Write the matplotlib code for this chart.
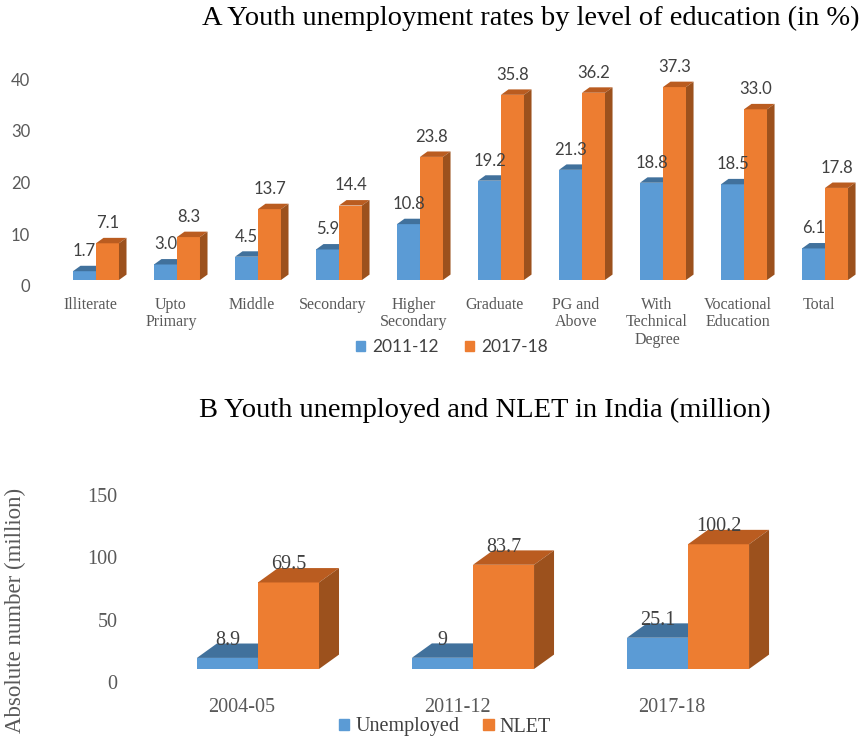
import matplotlib
matplotlib.use("Agg")
import matplotlib.pyplot as plt
from matplotlib.patches import Polygon, Patch
from matplotlib.transforms import ScaledTranslation

# panel A: youth unemployment rate by education (%)
edu_levels = ["Illiterate", "Upto\nPrimary", "Middle", "Secondary", "Higher\nSecondary",
              "Graduate", "PG and\nAbove", "With\nTechnical\nDegree", "Vocational\nEducation", "Total"]
rate_2011 = [1.7, 3.0, 4.5, 5.9, 10.8, 19.2, 21.3, 18.8, 18.5, 6.1]
rate_2017 = [7.1, 8.3, 13.7, 14.4, 23.8, 35.8, 36.2, 37.3, 33.0, 17.8]
series_a = ["2011-12", "2017-18"]

# panel B: youth unemployed and NLET (million)
years = ["2004-05", "2011-12", "2017-18"]
unemployed = [8.9, 9, 25.1]
nlet = [69.5, 83.7, 100.2]
series_b = ["Unemployed", "NLET"]

BLUE, BLUE_TOP = "#5B9BD5", "#41719C"
ORANGE, ORANGE_TOP, ORANGE_SIDE = "#ED7D31", "#BA5C20", "#9C511D"
SANS = ["Lato", "DejaVu Sans"]
SERIF = ["Liberation Serif", "DejaVu Serif"]

W, H = 863, 739
fig = plt.figure(figsize=(W / 100, H / 100), dpi=100)


def axes_px(left, top, right, bottom):
    return fig.add_axes([left / W, 1 - bottom / H, (right - left) / W, (bottom - top) / H])


def depth(ax, dx):
    # depth offset: dx in index units, dy in data units (about 0.72 of dx on screen)
    bb = ax.get_position()
    x0, x1 = ax.get_xlim()
    y0, y1 = ax.get_ylim()
    px_x = bb.width * W / (x1 - x0)
    px_y = bb.height * H / (y1 - y0)
    return dx, 0.72 * dx * px_x / px_y


def bars3d(ax, xs, vals, width, face, top, side, dx, dy, z):
    ax.bar(xs, vals, width=width, align="edge", color=face, zorder=z, linewidth=0)
    for x, v in zip(xs, vals):
        ax.add_patch(Polygon([(x, v), (x + dx, v + dy), (x + width + dx, v + dy), (x + width, v)],
                             closed=True, facecolor=top, edgecolor="none", zorder=z))
        ax.add_patch(Polygon([(x + width, 0), (x + width + dx, dy), (x + width + dx, v + dy), (x + width, v)],
                             closed=True, facecolor=side, edgecolor="none", zorder=z))


def clean(ax, shift_px):
    for s in ax.spines.values():
        s.set_visible(False)
    ax.tick_params(length=0)
    off = ScaledTranslation(0, -shift_px / 100, fig.dpi_scale_trans)
    for lab in ax.get_yticklabels():
        lab.set_transform(lab.get_transform() + off)


bw = 0.284
dx = 0.093

# ---- A ----
axA = axes_px(40, 70, 860, 280)
axA.set_xlim(-0.617, 9.506)
axA.set_ylim(0, 40.6)
idx = list(range(len(edu_levels)))
ddx, ddy = depth(axA, dx)
blue_x = [i - 0.21 for i in idx]
orange_x = [i - 0.21 + bw for i in idx]
bars3d(axA, blue_x, rate_2011, bw, BLUE, BLUE_TOP, BLUE_TOP, ddx, ddy, 2)
bars3d(axA, orange_x, rate_2017, bw, ORANGE, ORANGE_TOP, ORANGE_SIDE, ddx, ddy, 3)
for xs, vals in ((blue_x, rate_2011), (orange_x, rate_2017)):
    for x, v in zip(xs, vals):
        axA.annotate(f"{v:.1f}", (x + bw / 2, v + ddy), xytext=(0, 7), textcoords="offset points",
                     ha="center", va="baseline", fontsize=12, family=SANS, color="#404040", zorder=5)
axA.set_yticks([0, 10, 20, 30, 40])
axA.set_xticks(idx)
axA.set_xticklabels(edu_levels, family=SERIF, fontsize=11.5, color="#595959", va="top", linespacing=1.15)
axA.tick_params(axis="x", pad=12)
axA.tick_params(axis="y", pad=7, labelsize=12, labelcolor="#595959")
for lab in axA.get_yticklabels():
    lab.set_family(SANS)
clean(axA, 6)
fig.text(531 / W, 1 - 18 / H, "A Youth unemployment rates by level of education (in %)",
         ha="center", va="center", fontsize=20.5, family=SERIF, color="black")
fig.legend([Patch(color=BLUE), Patch(color=ORANGE)], series_a, loc="center",
           bbox_to_anchor=(452 / W, 1 - 347 / H), ncol=2, frameon=False,
           prop={"family": SANS, "size": 12.5}, handlelength=0.55, handleheight=0.55,
           handletextpad=0.4, columnspacing=1.5, labelcolor="#404040")

# ---- B ----
axB = axes_px(127, 480, 860, 669)
axB.set_xlim(-0.535, 2.874)
axB.set_ylim(0, 151.8)
idx_b = list(range(len(years)))
ddx, ddy = depth(axB, dx)
blue_x = [i - 0.21 for i in idx_b]
orange_x = [i - 0.21 + bw for i in idx_b]
bars3d(axB, blue_x, unemployed, bw, BLUE, BLUE_TOP, BLUE_TOP, ddx, ddy, 2)
bars3d(axB, orange_x, nlet, bw, ORANGE, ORANGE_TOP, ORANGE_SIDE, ddx, ddy, 3)
for xs, vals in ((blue_x, unemployed), (orange_x, nlet)):
    for x, v in zip(xs, vals):
        axB.annotate(f"{v:g}", (x + bw / 2, v + ddy), xytext=(0, -1), textcoords="offset points",
                     ha="center", va="baseline", fontsize=14.5, family=SERIF, color="#404040", zorder=5)
axB.set_yticks([0, 50, 100, 150])
axB.set_xticks(idx_b)
axB.set_xticklabels(years, family=SERIF, fontsize=14.5, color="#595959")
axB.tick_params(axis="x", pad=21)
axB.tick_params(axis="y", pad=7, labelsize=14.5, labelcolor="#595959")
for lab in axB.get_yticklabels():
    lab.set_family(SERIF)
clean(axB, 13)
fig.text(15 / W, 1 - 610 / H, "Absolute number (million)", rotation=90, ha="center", va="center",
         fontsize=16.5, family=SERIF, color="#595959")
fig.text(485 / W, 1 - 410 / H, "B Youth unemployed and NLET in India (million)",
         ha="center", va="center", fontsize=20.5, family=SERIF, color="black")
fig.legend([Patch(color=BLUE), Patch(color=ORANGE)], series_b, loc="center",
           bbox_to_anchor=(445 / W, 1 - 727 / H), ncol=2, frameon=False,
           prop={"family": SERIF, "size": 14.5}, handlelength=0.5, handleheight=0.5,
           handletextpad=0.3, columnspacing=1.2, labelcolor="#404040")

fig.savefig("out.png", dpi=100)
